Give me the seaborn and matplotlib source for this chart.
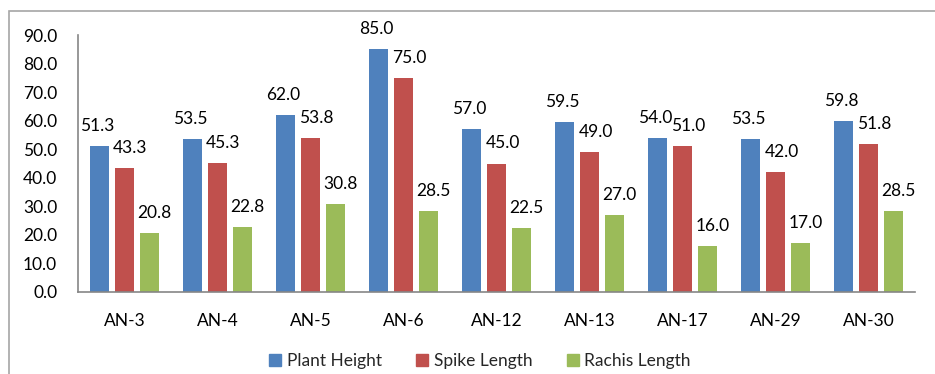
import matplotlib
matplotlib.use("Agg")
import matplotlib.pyplot as plt
from matplotlib.patches import Rectangle
from matplotlib.lines import Line2D
import seaborn as sns
import pandas as pd

lines = ["AN-3", "AN-4", "AN-5", "AN-6", "AN-12", "AN-13", "AN-17", "AN-29", "AN-30"]
plant_height = [51.3, 53.5, 62.0, 85.0, 57.0, 59.5, 54.0, 53.5, 59.8]
spike_length = [43.3, 45.3, 53.8, 75.0, 45.0, 49.0, 51.0, 42.0, 51.8]
rachis_length = [20.8, 22.8, 30.8, 28.5, 22.5, 27.0, 16.0, 17.0, 28.5]
series_names = ["Plant Height", "Spike Length", "Rachis Length"]
y_ticks = [0, 10, 20, 30, 40, 50, 60, 70, 80, 90]

colors = ["#4F81BD", "#C0504D", "#9BBB59"]
axis_gray = "#868686"
fs = 12.5

sns.set_theme(style="white")
plt.rcParams["font.family"] = ["Lato", "DejaVu Sans"]

df = pd.DataFrame({
    "line": lines * 3,
    "value": plant_height + spike_length + rachis_length,
    "trait": [s for s in series_names for _ in lines],
})

W, H = 935, 374
fig = plt.figure(figsize=(W / 100, H / 100), dpi=100)
ax = fig.add_axes([78 / W, 82 / H, 837 / W, 257 / H])

sns.barplot(data=df, x="line", y="value", hue="trait", order=lines,
            hue_order=series_names, palette=colors, saturation=1,
            width=0.8, gap=0.25, linewidth=0, ax=ax, legend=False)

ax.set_xlim(-0.5, len(lines) - 0.5)
ax.set_ylim(0, 90)
ax.set_yticks(y_ticks)
ax.set_yticklabels([f"{v:.1f}" for v in y_ticks])
ax.set_xlabel("")
ax.set_ylabel("")

# category boundary ticks on the x axis, labels in between
ax.set_xticks([i - 0.5 for i in range(len(lines) + 1)], minor=False)
ax.set_xticklabels([""] * (len(lines) + 1))
ax.set_xticks(range(len(lines)), minor=True)
ax.set_xticklabels(lines, minor=True)
ax.tick_params(axis="x", which="major", length=6, width=1, color=axis_gray, direction="out")
ax.tick_params(axis="x", which="minor", length=0, pad=15, labelsize=fs, labelcolor="black")
ax.tick_params(axis="y", length=6, width=1, color=axis_gray, direction="out",
               labelsize=fs, labelcolor="black", pad=9)

for side in ("top", "right"):
    ax.spines[side].set_visible(False)
for side in ("left", "bottom"):
    ax.spines[side].set_color(axis_gray)
    ax.spines[side].set_linewidth(1.2)

# value labels above each bar
x_shift = [-1.5, 4.3, 3.6]
for ci, (container, values) in enumerate(zip(ax.containers,
                                             [plant_height, spike_length, rachis_length])):
    for bar, v in zip(container.patches, values):
        xc = bar.get_x() + bar.get_width() / 2
        ax.annotate(f"{v:.1f}", (xc, v), xytext=(x_shift[ci], 14.4),
                    textcoords="offset points", ha="center", va="center",
                    fontsize=fs, color="black", annotation_clip=False)

handles = [Line2D([0], [0], marker="s", linestyle="none", markersize=8,
                  markerfacecolor=c, markeredgecolor=c) for c in colors]
fig.legend(handles, series_names, loc="center", bbox_to_anchor=(480 / W, 1 - 361 / H),
           ncol=3, frameon=False, fontsize=fs, handlelength=0.7, handletextpad=0.3,
           columnspacing=2.0, borderaxespad=0)

# outer chart frame
fig.patches.append(Rectangle((9 / W, -0.1), 1.2, 1 - 11 / H + 0.1, transform=fig.transFigure,
                             fill=False, edgecolor="#A6A6A6", linewidth=1.2))

fig.savefig("out.png", dpi=100)
